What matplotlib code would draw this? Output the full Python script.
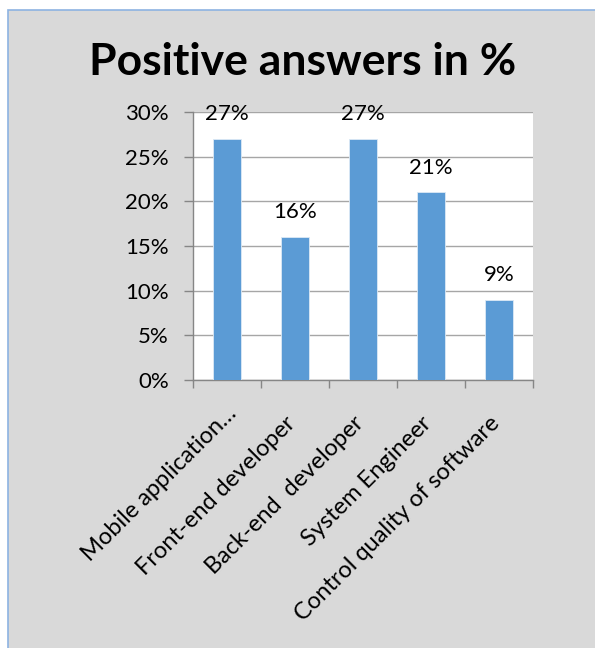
import matplotlib
matplotlib.use('Agg')
import matplotlib.pyplot as plt
from matplotlib.patches import Rectangle
from matplotlib.ticker import PercentFormatter
from matplotlib.transforms import ScaledTranslation
import numpy as np

categories = ['Mobile application…', 'Front-end developer', 'Back-end  developer',
              'System Engineer', 'Control quality of software']
values = [0.27, 0.16, 0.27, 0.21, 0.09]
labels = ['27%', '16%', '27%', '21%', '9%']
yticks = [0, 0.05, 0.10, 0.15, 0.20, 0.25, 0.30]

W, H = 595, 648
FONT = ['Lato', 'DejaVu Sans']
plt.rcParams['font.family'] = FONT

fig = plt.figure(figsize=(W / 100, H / 100), dpi=100)
fig.patch.set_facecolor('white')

# gray chart area with blue frame on left / top
fig.patches.append(Rectangle((8 / W, -0.01), 1.0, 1 - 10 / H + 0.01,
                             transform=fig.transFigure, facecolor='#d9d9d9',
                             edgecolor='#8db3e2', lw=1.2, zorder=-10))

ax = fig.add_axes([193 / W, (H - 380) / H, 340 / W, 268 / H])
ax.set_facecolor('white')

x = np.arange(len(categories))
ax.bar(x, values, width=0.4, color='#5b9bd5', edgecolor='#dce9f5', lw=0.6, zorder=3)
for xi, v, lab in zip(x, values, labels):
    ax.annotate(lab, (xi, v), xytext=(0, 13.5), textcoords='offset points',
                ha='center', va='baseline', fontsize=16, color='black', zorder=4,
                annotation_clip=False)

ax.set_xlim(-0.5, len(categories) - 0.5)
ax.set_ylim(0, 0.30)
ax.set_yticks(yticks)
ax.yaxis.set_major_formatter(PercentFormatter(1.0, decimals=0))
ax.tick_params(axis='y', length=6.5, color='#868686', width=1, labelsize=16, pad=11)
ax.grid(axis='y', color='#a6a6a6', lw=1, zorder=0)

ax.set_xticks(x)
ax.set_xticklabels(categories, rotation=45, ha='right', va='center',
                   rotation_mode='anchor', fontsize=17)
ax.set_xticks(np.arange(len(categories) + 1) - 0.5, minor=True)
ax.tick_params(axis='x', which='major', length=0, pad=0)
ax.tick_params(axis='x', which='minor', length=6, color='#868686', width=1)
# the truncated first label sits a little further along its baseline
for i, t in enumerate(ax.get_xticklabels()):
    dx, dy = (6, 30) if i == 0 else (-3, 40)
    t.set_transform(t.get_transform() + ScaledTranslation(dx / 100, -dy / 100, fig.dpi_scale_trans))

for s in ['top', 'right']:
    ax.spines[s].set_visible(False)
for s in ['left', 'bottom']:
    ax.spines[s].set_color('#868686')
    ax.spines[s].set_linewidth(1)

fig.text(303 / W, 1 - 62 / H, 'Positive answers in %', ha='center', va='center',
         fontsize=32, fontweight='bold')

fig.savefig('out.png', dpi=100)
